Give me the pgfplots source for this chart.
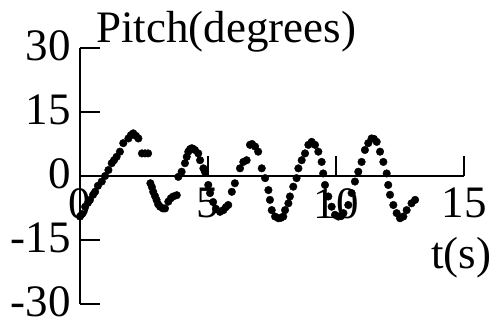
\documentclass[border=0pt]{standalone}
\usepackage{fontspec}
\setmainfont{Liberation Serif}
\usepackage{pgfplots}
\pgfplotsset{compat=1.18}
\begin{document}
\begin{tikzpicture}
\begin{axis}[
  scale only axis, width=384bp, height=256bp,
  xmin=0, xmax=15, ymin=-30, ymax=30,
  axis x line=middle, axis y line=left,
  axis line style={-, line width=2.5bp, black},
  hide obscured x ticks=false, hide obscured y ticks=false,
  xtick={0,5,10,15}, xticklabels={0,5,10,15},
  ytick={-30,-15,0,15,30}, yticklabels={-30,-15,0,15,30},
  tick align=inside, major tick length=20bp,
  tick style={line width=2.5bp, black},
  minor tick num=0,
  font=\fontsize{45bp}{50bp}\selectfont,
  /pgf/number format/assume math mode=true,
  xticklabel style={inner sep=0pt, anchor=north, yshift=-12bp},
  yticklabel style={inner sep=0pt, anchor=east, xshift=-9bp, yshift=2bp},
  clip=false,
]
\addplot[only marks, mark=*, mark size=3.8bp, black] coordinates {
(0,-9.5) (0.08,-8.9) (0.2,-7.2) (0.31,-6.3) (0.39,-5.6) (0.51,-4.4) (0.59,-3.7)
(0.70,-2.3) (0.85,-1.3) (0.98,0) (1.11,1.4) (1.24,3.0) (1.33,3.7) (1.43,4.5)
(1.56,5.7) (1.69,7.7) (1.89,8.8) (1.99,9.6) (2.08,10.0) (2.19,9.4) (2.28,8.8)
(2.42,5.3) (2.54,5.3) (2.66,5.3)
(2.75,-1.7) (2.81,-2.6) (2.86,-3.7) (2.93,-4.7) (2.99,-5.6) (3.05,-6.6) (3.13,-7.2)
(3.24,-7.6) (3.32,-7.6) (3.45,-6.0) (3.55,-5.2) (3.64,-4.8) (3.78,-4.5)
(3.84,-0.2) (3.97,1.0) (4.10,3.0) (4.17,4.5) (4.23,5.7) (4.30,6.3) (4.36,6.5)
(4.41,6.4) (4.49,6.1) (4.62,5.3) (4.69,3.7) (4.82,1.8) (4.88,1.0) (5.01,-2.1)
(5.08,-4.0) (5.20,-6.1) (5.31,-7.7) (5.47,-8.4) (5.60,-8.0) (5.70,-7.3) (5.79,-6.8)
(5.93,-3.7) (6.05,-1.7) (6.25,1.8) (6.38,3.3) (6.51,3.7) (6.64,7.3) (6.72,7.5)
(6.84,6.9) (6.96,5.7) (7.10,1.8) (7.23,-0.5) (7.36,-3.3) (7.42,-5.6) (7.49,-8.0)
(7.62,-9.5) (7.75,-9.9) (7.85,-9.8) (7.94,-9.5) (8.01,-8.0) (8.14,-6.4) (8.20,-4.8)
(8.33,-2.5) (8.46,-0.5) (8.53,1.8) (8.66,3.7) (8.79,5.3) (8.92,7.3) (9.05,8.0)
(9.18,7.3) (9.31,5.7) (9.44,3.3) (9.50,0.6) (9.57,-2.1) (9.70,-4.8) (9.83,-7.2)
(9.96,-9.1) (10.09,-9.5) (10.20,-9.4) (10.29,-8.7) (10.48,-6.8) (10.61,-4.0)
(10.74,-1.3) (10.87,1.0) (11.00,3.3) (11.13,6.1) (11.26,7.7) (11.39,8.8) (11.48,8.7)
(11.59,8.0) (11.72,5.7) (11.85,3.3) (11.98,0.6) (12.04,-2.1) (12.11,-4.4)
(12.24,-6.8) (12.37,-8.7) (12.50,-9.9) (12.63,-9.5) (12.76,-8.0) (12.95,-6.4) (13.09,-5.6)
};
\node[anchor=base west, inner sep=0pt, font=\fontsize{45bp}{50bp}\selectfont]
  at (rel axis cs:0,1) [xshift=16bp, yshift=6bp] {Pitch(degrees)};
\node[anchor=north, inner sep=0pt, font=\fontsize{45bp}{50bp}\selectfont]
  at (axis cs:15,0) [xshift=-3bp, yshift=-61bp] {t(s)};
\end{axis}
\pgfresetboundingbox
\path (-80bp,-18bp) rectangle (417bp,304bp);
\end{tikzpicture}
\end{document}
